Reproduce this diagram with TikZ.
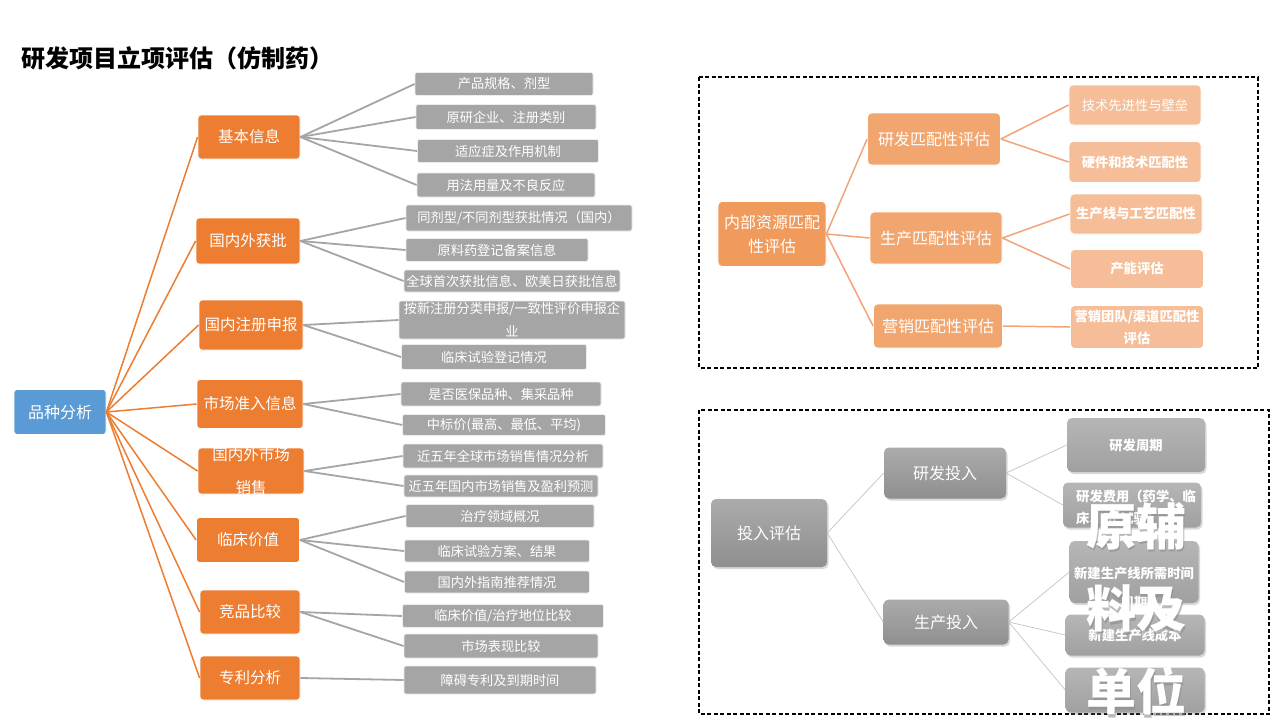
\documentclass[tikz,border=0pt]{standalone}
\usepackage{fontspec}
\setmainfont{Noto Sans CJK SC}
\usetikzlibrary{shadows}
\definecolor{orangeA}{HTML}{ED7D31}
\definecolor{blueA}{HTML}{5B9BD5}
\definecolor{greyA}{HTML}{A5A5A5}
\definecolor{peach0}{HTML}{F09A5C}
\definecolor{peach1}{HTML}{F1A670}
\definecolor{peach2}{HTML}{F5BE98}
\definecolor{peachline}{HTML}{F2A47A}
\definecolor{gTop}{HTML}{ABABAB}
\definecolor{gBot}{HTML}{8F8F8F}
\definecolor{lTop}{HTML}{B6B6B6}
\definecolor{lBot}{HTML}{A0A0A0}
\definecolor{thinline}{HTML}{C4C4C4}
\tikzset{
  sz/.style 2 args={minimum width=#1pt, minimum height=#2pt},
  rootbox/.style={fill=blueA, draw=white, line width=0.8pt, rounded corners=3pt, text=white, inner sep=0pt, font=\fontsize{16}{19}\selectfont},
  lonebox/.style={fill=orangeA, draw=white, line width=0.8pt, rounded corners=3pt, text=white, inner sep=0pt, font=\fontsize{15.5}{19}\selectfont},
  lonetext/.style={text=white, inner sep=0pt, font=\fontsize{15.5}{19}\selectfont},
  leafbox/.style={fill=greyA, draw=white!80!greyA, line width=0.8pt, rounded corners=2pt, text=white, inner sep=0pt, align=center, font=\fontsize{13.2}{23}\selectfont},
  orgline/.style={draw=orangeA, line width=1.5pt},
  greyline/.style={draw=greyA, line width=1.8pt},
  pzero/.style={fill=peach0, draw=white, line width=0.8pt, rounded corners=4pt, text=white, inner sep=0pt, align=center, font=\fontsize{16}{24}\selectfont},
  pone/.style={fill=peach1, draw=white, line width=0.8pt, rounded corners=4pt, text=white, inner sep=0pt, font=\fontsize{16}{19}\selectfont},
  ptwo/.style={fill=peach2, draw=white, line width=0.8pt, rounded corners=4pt, text=white, inner sep=0pt, align=center, font=\fontsize{13.3}{22}\selectfont},
  pline/.style={draw=peachline, line width=1.5pt},
  dashbox/.style={draw=black, line width=1.3pt, dash pattern=on 4pt off 2.5pt},
  gbig/.style={top color=gTop, bottom color=gBot, draw=none, rounded corners=5pt, text=white, inner sep=0pt, font=\fontsize{16}{19}\selectfont, drop shadow={shadow xshift=1.5pt, shadow yshift=-2pt, opacity=0.3}},
  gsmall/.style={top color=lTop, bottom color=lBot, draw=none, rounded corners=5pt, text=white, inner sep=0pt, font=\bfseries\fontsize{13.3}{22}\selectfont, drop shadow={shadow xshift=1.5pt, shadow yshift=-2pt, opacity=0.3}},
  gtext/.style={text=white, inner sep=0pt, font=\bfseries\fontsize{13.3}{22}\selectfont},
  thin/.style={draw=thinline, line width=0.7pt},
  overshadow/.style={text=black!45, opacity=0.6, inner sep=0pt, font=\bfseries\fontsize{50}{60}\selectfont},
  overtext/.style={text=white, inner sep=0pt, font=\bfseries\fontsize{50}{60}\selectfont},
}
\begin{document}
\begin{tikzpicture}[x=1pt, y=-1pt]
\useasboundingbox (0,0) rectangle (1280,720);
\fill[white] (0,0) rectangle (1280,720);

% title
\node[anchor=west, inner sep=0pt, font=\bfseries\fontsize{24}{28}\selectfont] (title) at (21,58) {研发项目立项评估（仿制药）};

% ---------- left tree ----------
\node[rootbox, sz={92}{45}] (root) at (60,412) {品种分析};

\node[lonebox, sz={102}{44}] (b1) at (249,137) {基本信息};
\node[lonebox, sz={104}{46}] (b2) at (248,241) {国内外获批};
\node[lonebox, sz={104}{50}] (b3) at (251,325) {国内注册申报};
\node[lonebox, sz={106}{49}] (b4) at (250,404) {市场准入信息};
\node[lonebox, sz={106}{46}] (b5) at (251,471) {};
\node[lonetext] (b5a) at (251,455) {国内外市场};
\node[lonetext] (b5b) at (251,488) {销售};
\node[lonebox, sz={103}{45}] (b6) at (248,540) {临床价值};
\node[lonebox, sz={100}{44}] (b7) at (250,612) {竞品比较};
\node[lonebox, sz={100}{44}] (b8) at (250,678) {专利分析};

\foreach \b in {b1,b2,b3,b4,b5,b6,b7,b8}
  \draw[orgline] (root.east) -- (\b.west);

\node[leafbox, sz={178}{23}] (l11) at (504,84) {产品规格、剂型};
\node[leafbox, sz={180}{25}] (l12) at (506,117) {原研企业、注册类别};
\node[leafbox, sz={181}{23}] (l13) at (508,151) {适应症及作用机制};
\node[leafbox, sz={178}{24}] (l14) at (506,185) {用法用量及不良反应};
\node[leafbox, sz={226}{26}] (l21) at (519,218) {同剂型/不同剂型获批情况（国内）};
\node[leafbox, sz={182}{23}] (l22) at (497,250) {原料药登记备案信息};
\node[leafbox, sz={216}{22}] (l23) at (512,281) {全球首次获批信息、欧美日获批信息};
\node[leafbox, sz={226}{38}] (l31) at (512,320) {按新注册分类申报/一致性评价申报企\\业};
\node[leafbox, sz={185}{25}] (l32) at (494,357) {临床试验登记情况};
\node[leafbox, sz={200}{24}] (l41) at (501,394) {是否医保品种、集采品种};
\node[leafbox, sz={203}{21}] (l42) at (504,425) {中标价(最高、最低、平均)};
\node[leafbox, sz={200}{24}] (l51) at (503,456) {近五年全球市场销售情况分析};
\node[leafbox, sz={194}{22}] (l52) at (501,486) {近五年国内市场销售及盈利预测};
\node[leafbox, sz={188}{23}] (l61) at (500,516) {治疗领域概况};
\node[leafbox, sz={185}{22}] (l62) at (497,551) {临床试验方案、结果};
\node[leafbox, sz={185}{22}] (l63) at (497,582) {国内外指南推荐情况};
\node[leafbox, sz={201}{23}] (l71) at (503,616) {临床价值/治疗地位比较};
\node[leafbox, sz={194}{24}] (l72) at (501,646) {市场表现比较};
\node[leafbox, sz={192}{28}] (l81) at (500,680) {障碍专利及到期时间};

\foreach \p/\c in {b1/l11,b1/l12,b1/l13,b1/l14,b2/l21,b2/l22,b2/l23,b3/l31,b3/l32,b4/l41,b4/l42,b5/l51,b5/l52,b6/l61,b6/l62,b6/l63,b7/l71,b7/l72,b8/l81}
  \draw[greyline] (\p.east) -- (\c.west);

% ---------- top right ----------
\draw[dashbox] (699,77) rectangle (1258,368);

\node[pzero, sz={108}{65}] (r0) at (772,234) {内部资源匹配\\性评估};
\node[pone, sz={133}{52}] (r1) at (934,139) {研发匹配性评估};
\node[pone, sz={132}{52}] (r2) at (936,238) {生产匹配性评估};
\node[pone, sz={129}{44}] (r3) at (938,326) {营销匹配性评估};
\node[ptwo, sz={132}{40}] (r11) at (1135,105) {技术先进性与壁垒};
\node[ptwo, sz={132}{41}, font=\bfseries\fontsize{13.3}{22}\selectfont] (r12) at (1135,162) {硬件和技术匹配性};
\node[ptwo, sz={132}{40}, font=\bfseries\fontsize{13.3}{22}\selectfont] (r21) at (1136,214) {生产线与工艺匹配性};
\node[ptwo, sz={133}{39}, font=\bfseries\fontsize{13.3}{22}\selectfont] (r22) at (1137,269) {产能评估};
\node[ptwo, sz={133}{43}, font=\bfseries\fontsize{13.3}{22}\selectfont] (r31) at (1137,327) {营销团队/渠道匹配性\\评估};

\foreach \c in {r1,r2,r3}
  \draw[pline] (r0.east) -- (\c.west);
\foreach \p/\c in {r1/r11,r1/r12,r2/r21,r2/r22,r3/r31}
  \draw[pline] (\p.east) -- (\c.west);

% ---------- bottom right ----------
\draw[dashbox] (699,410) rectangle (1269,714);

\node[gbig, sz={116}{68}] (s0) at (769,533) {投入评估};
\node[gbig, sz={122}{51}] (s1) at (945,473) {研发投入};
\node[gbig, sz={125}{45}] (s2) at (946,622) {生产投入};
\node[gsmall, sz={138}{54}] (s11) at (1136,445) {研发周期};
\node[gsmall, sz={138}{45}] (s12) at (1132,505) {};
\node[gtext, anchor=west] (s12a) at (1076,496) {研发费用（药学、临};
\node[gtext, anchor=west] (s12b) at (1076,518) {床、BE试验）};
\node[gsmall, sz={129}{62}] (s21) at (1134,572) {};
\node[gtext] (s21a) at (1134,573) {新建生产线所需时间};
\node[gtext] (s21b) at (1134,603) {周期};
\node[gsmall, sz={139}{41}] (s22) at (1135,635) {新建生产线成本};
\node[gsmall, sz={139}{45}] (s23) at (1135,690) {};

\foreach \c in {s1,s2}
  \draw[thin] (s0.east) -- (\c.west);
\foreach \p/\c in {s1/s11,s1/s12,s2/s21,s2/s22,s2/s23}
  \draw[thin] (\p.east) -- (\c.west);

% overlay text
\node[overshadow] (o1s) at (1137.5,528.5) {原辅};
\node[overtext] (o1) at (1136,526) {原辅};
\node[overshadow] (o2s) at (1137.5,611.5) {料及};
\node[overtext] (o2) at (1136,609) {料及};
\node[overshadow] (o3s) at (1137.5,693.5) {单位};
\node[overtext] (o3) at (1136,691) {单位};
\end{tikzpicture}
\end{document}
